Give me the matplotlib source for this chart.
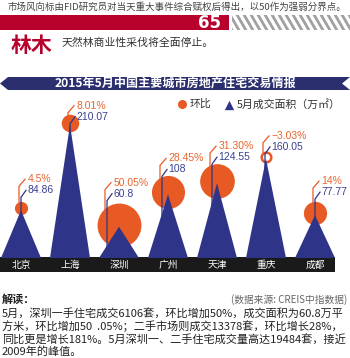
import numpy as np
import matplotlib
matplotlib.use("Agg")
import matplotlib.pyplot as plt
from matplotlib.patches import Polygon, Rectangle
from matplotlib.lines import Line2D
import matplotlib.transforms as mtransforms

plt.rcParams['font.family'] = ['Noto Sans CJK SC', 'DejaVu Sans']

# ---------------- data ----------------
cities = ["北京", "上海", "深圳", "广州", "天津", "重庆", "成都"]
area = [84.86, 210.07, 60.8, 108, 124.55, 160.05, 77.77]          # 5月成交面积（万㎡）
mom = [4.5, 8.01, 50.05, 28.45, 31.30, -3.03, 14]                  # 环比 %
area_labels = ["84.86", "210.07", "60.8", "108", "124.55", "160.05", "77.77"]
mom_labels = ["4.5%", "8.01%", "50.05%", "28.45%", "31.30%", "−3.03%", "14%"]

title = "2015年5月中国主要城市房地产住宅交易情报"
top_note = "市场风向标由FID研究员对当天重大事件综合赋权后得出，以50作为强弱分界点。"
index_value = "65"
sector = "林木"
sector_note = "天然林商业性采伐将全面停止。"
source = "(数据来源: CREIS中指数据)"
para = ["5月，深圳一手住宅成交6106套，环比增加50%，成交面积为60.8万平",
        "方米，环比增加50  .05%；二手市场则成交13378套，环比增长28%，",
        "同比更是增长181%。5月深圳一、二手住宅成交量高达19484套，接近",
        "2009年的峰值。"]

# ---------------- layout (pixels) ----------------
W, H = 350, 358
RED = '#B8002C'
NAVY = '#2E3488'
ORANGE = '#E85A24'
ORANGE_T = '#E8642E'
NAVY_T = '#3A4190'
label_dx = [0, 0, -12, -6, -5, -1, 0]       # leader-line x offset (px)
label_rise = [20, 8, 33, 25, 26, 12, 23]    # value label height above apex (px)

fig = plt.figure(figsize=(W / 100, H / 100), dpi=100)
ov = fig.add_axes([0, 0, 1, 1])
ov.set_xlim(0, W)
ov.set_ylim(H, 0)
ov.axis('off')

# header
ov.text(8, 7.5, top_note, fontsize=6.8, color='#444444', va='center', ha='left')
ov.add_patch(Rectangle((0, 15), 229, 15, color=RED, lw=0))
ov.text(221, 22.5, index_value, fontsize=12, color='white', fontweight='bold',
        ha='right', va='center', family='DejaVu Sans')
clip = Rectangle((232, 15), W - 232, 15, transform=ov.transData)
for xs in np.arange(222, W + 10, 7):
    ln = Line2D([xs, xs + 11], [13, 32], color='#A0A0A0', lw=2.0)
    ov.add_line(ln)
    ln.set_clip_path(clip)
ov.text(11, 46, sector, fontsize=15, color=RED, fontweight='bold', va='center', ha='left')
ov.text(62, 43, sector_note, fontsize=7.8, color='#333333', va='center', ha='left')

# title ribbon
ov.add_patch(Polygon([(0, 83.5), (8, 77), (W, 77), (W - 8, 83.5), (W, 90), (8, 90)],
                     closed=True, color='#2C2F6E', lw=0))
ov.text(175, 83.5, title, fontsize=8.7, color='white', fontweight='bold',
        ha='center', va='center')

# legend
ov.scatter([182], [104], s=42, color=ORANGE, lw=0)
ov.text(190, 104, "环比", fontsize=7.8, color='#333333', va='center', ha='left')
ov.scatter([229], [104.5], s=45, marker='^', color=NAVY, lw=0)
ov.text(237, 104, "5月成交面积（万㎡）", fontsize=7.8, color='#333333', va='center', ha='left')

# ---------------- chart axes ----------------
base = 15.0
yunit = 1.464          # value units per pixel
xunit = 1 / 49.0       # category units per pixel
ax = fig.add_axes([0, (H - 258) / H, 1, (258 - 95) / H])
ax.set_xlim(-21 * xunit, (W - 21) * xunit)
ax.set_ylim(base, base + 163 * yunit)
ax.axis('off')
ax.patch.set_alpha(0)

half = 20 * xunit
for i, v in enumerate(area):
    ax.add_patch(Polygon([(i - half, base), (i, v), (i + half, base)], closed=True,
                         color=NAVY, lw=0, zorder=4))

for i, (v, p) in enumerate(zip(area, mom)):
    r_px = 3.1 * np.sqrt(abs(p))
    s = (2 * r_px * 0.72) ** 2
    cy = v + 2 * yunit
    if p >= 0:
        ax.scatter([i], [cy], s=s, color=ORANGE, lw=0, zorder=2)
    else:
        ax.scatter([i], [cy], s=s * 0.8, facecolor='white', edgecolor=ORANGE, lw=1.8, zorder=2)

    xl = i + label_dx[i] * xunit
    vy = v + label_rise[i] * yunit
    py = vy + 11 * yunit
    xo = xl - 2 * xunit
    # blue leader
    ax.plot([xl, xl, xl + 5 * xunit], [base, vy - 7 * yunit, vy], color=NAVY, lw=0.9,
            zorder=3, solid_joinstyle='miter')
    # orange leader
    ax.plot([xo, xo, xo + 6 * xunit], [cy, py - 7 * yunit, py], color=ORANGE, lw=0.9,
            zorder=1, solid_joinstyle='miter')
    ax.text(xl + 6.5 * xunit, vy, area_labels[i], fontsize=7.5, color=NAVY_T,
            family='Liberation Sans', va='center', ha='left', zorder=5)
    ax.text(xl + 6.5 * xunit, py, mom_labels[i], fontsize=7.5, color=ORANGE_T,
            family='Liberation Sans', va='center', ha='left', zorder=5)

# category bar
ov.add_patch(Rectangle((0, 257), 335, 15, color='#1A1A1A', lw=0))
blend = mtransforms.blended_transform_factory(ax.transData, ov.transData)
for i, c in enumerate(cities):
    fig.text(i, 265, c, transform=blend, fontsize=7, color='white', ha='center', va='center')

# bottom text
ov.text(2, 299, "解读：", fontsize=8, color='#222222', fontweight='bold', va='center', ha='left')
ov.text(347, 300, source, fontsize=7, color='#666666', va='center', ha='right')
for k, line in enumerate(para):
    ov.text(2, 313 + 13 * k, line, fontsize=8, color='#222222', va='center', ha='left')

fig.savefig("out.png", dpi=100)
